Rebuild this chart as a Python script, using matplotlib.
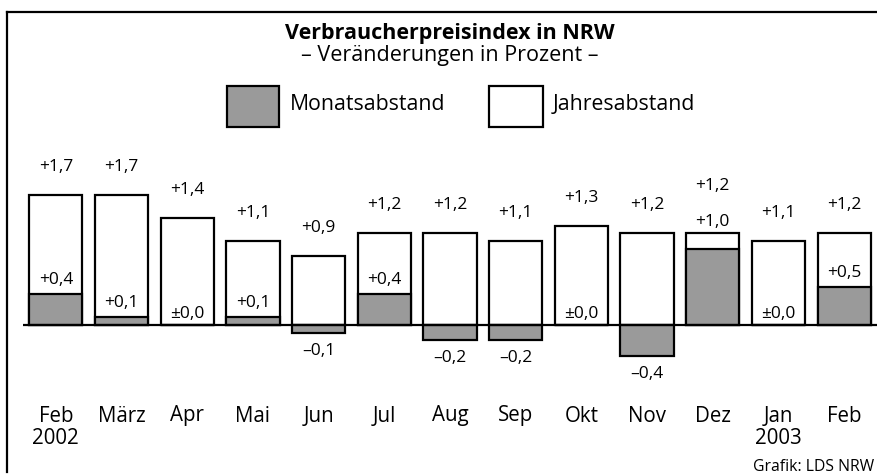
import matplotlib
matplotlib.use("Agg")
import matplotlib.pyplot as plt
from matplotlib.lines import Line2D
from matplotlib.patches import Rectangle

plt.rcParams['font.family'] = ['Open Sans', 'DejaVu Sans']

months = ["Feb", "März", "Apr", "Mai", "Jun", "Jul", "Aug", "Sep", "Okt", "Nov", "Dez", "Jan", "Feb"]
years = ["2002", "", "", "", "", "", "", "", "", "", "", "2003", ""]
jahresabstand = [1.7, 1.7, 1.4, 1.1, 0.9, 1.2, 1.2, 1.1, 1.3, 1.2, 1.2, 1.1, 1.2]
monatsabstand = [0.4, 0.1, 0.0, 0.1, -0.1, 0.4, -0.2, -0.2, 0.0, -0.4, 1.0, 0.0, 0.5]

GREY = "#9a9a9a"
W, H = 877, 475
fig = plt.figure(figsize=(W / 100, H / 100), dpi=100)

# axes in pixel layout
ax_left, ax_right, ax_top, ax_bot = 23, 877, 140, 460
ax = fig.add_axes([ax_left / W, (H - ax_bot) / H, (ax_right - ax_left) / W, (ax_bot - ax_top) / H])
scale = 76.5  # px per unit
base_y = 325
ax.set_xlim(-0.5, 12.5)
ax.set_ylim(-(ax_bot - base_y) / scale, (base_y - ax_top) / scale)
ax.axis("off")

x = list(range(len(months)))
bw = 0.81
ax.bar(x, jahresabstand, width=bw, facecolor="white", edgecolor="black", linewidth=1.6, zorder=2)
ax.bar(x, monatsabstand, width=bw, facecolor=GREY, edgecolor="black", linewidth=1.6, zorder=3)
ax.axhline(0, color="black", linewidth=1.6, zorder=4)


def fmt(v):
    if abs(v) < 1e-9:
        return "±0,0"
    s = f"{abs(v):.1f}".replace(".", ",")
    return ("+" if v > 0 else "–") + s


VFS = 12.5
px2pt = 0.72
for i in x:
    j, m = jahresabstand[i], monatsabstand[i]
    crowded = m > 0 and (j - m) < 0.35
    if crowded:
        ax.annotate(fmt(m), xy=(i, j), xytext=(0, 11 * px2pt), textcoords="offset points",
                    ha="center", va="center", fontsize=VFS, zorder=5)
        ax.annotate(fmt(j), xy=(i, j), xytext=(0, 47 * px2pt), textcoords="offset points",
                    ha="center", va="center", fontsize=VFS, zorder=5)
        continue
    ax.annotate(fmt(j), xy=(i, j), xytext=(0, 28 * px2pt), textcoords="offset points",
                ha="center", va="center", fontsize=VFS, zorder=5)
    if m > 0:
        off = 14
    elif m == 0:
        off = 11
    else:
        off = -18
    ax.annotate(fmt(m), xy=(i, m), xytext=(0, off * px2pt), textcoords="offset points",
                ha="center", va="center", fontsize=VFS, zorder=5)

for i in x:
    ax.text(i, (base_y - 416) / scale, months[i], ha="center", va="center", fontsize=14.8)
    if years[i]:
        ax.text(i, (base_y - 438) / scale, years[i], ha="center", va="center", fontsize=14.8)

# title
fig.text(450 / W, 1 - 33 / H, "Verbraucherpreisindex in NRW", ha="center", va="center",
         fontsize=15.5, fontweight="bold")
fig.text(450 / W, 1 - 55 / H, "– Veränderungen in Prozent –", ha="center", va="center", fontsize=15.5)

# legend
fig.patches.append(Rectangle((227 / W, 1 - 127 / H), 52 / W, 41 / H, transform=fig.transFigure,
                             facecolor=GREY, edgecolor="black", linewidth=1.6))
fig.text(290 / W, 1 - 104 / H, "Monatsabstand", ha="left", va="center", fontsize=15.3)
fig.patches.append(Rectangle((489 / W, 1 - 127 / H), 54 / W, 41 / H, transform=fig.transFigure,
                             facecolor="white", edgecolor="black", linewidth=1.6))
fig.text(553 / W, 1 - 104 / H, "Jahresabstand", ha="left", va="center", fontsize=15.3)

# frame
fig.lines.append(Line2D([7 / W, 1], [1 - 11.5 / H, 1 - 11.5 / H], transform=fig.transFigure, color="black", linewidth=1.6))
fig.lines.append(Line2D([7 / W, 7 / W], [1 - 11.5 / H, 1 - 472 / H], transform=fig.transFigure, color="black", linewidth=1.6))

fig.text(874 / W, 1 - 467 / H, "Grafik: LDS NRW", ha="right", va="center", fontsize=11.3)

fig.savefig("out.png", dpi=100, facecolor="white")
